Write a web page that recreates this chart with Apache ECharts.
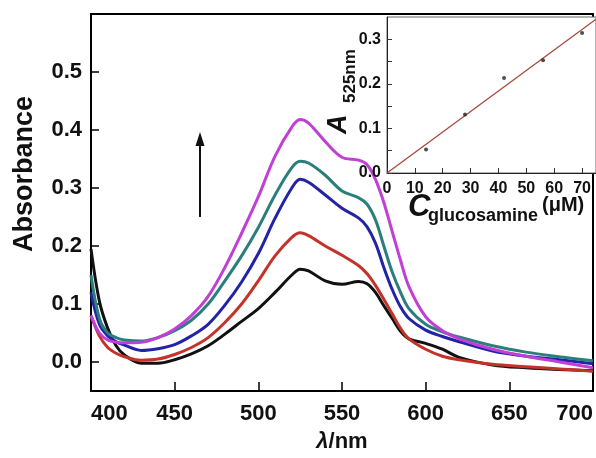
<!DOCTYPE html>
<html>
<head>
<meta charset="utf-8">
<script src="https://cdn.jsdelivr.net/npm/echarts@6/dist/echarts.min.js"></script>
<style>
html,body{margin:0;padding:0;background:#fff;}
#chart{width:596px;height:458px;}
</style>
</head>
<body>
<div id="chart"></div>
<script>
// ---- data ----
const wavelengths = [400,405,410,415,420,430,440,450,460,470,480,490,500,510,520,525,530,540,550,560,565,570,575,580,585,590,600,610,620,640,660,680,700];
const absBlack   = [0.195,0.105,0.058,0.028,0.012,-0.002,-0.002,0.004,0.014,0.028,0.048,0.070,0.092,0.120,0.150,0.160,0.157,0.140,0.134,0.139,0.135,0.120,0.097,0.075,0.053,0.040,0.032,0.022,0.008,-0.005,-0.010,-0.013,-0.015];
const absRed     = [0.080,0.045,0.025,0.015,0.009,0.003,0.005,0.013,0.025,0.042,0.068,0.100,0.140,0.183,0.215,0.223,0.218,0.200,0.184,0.166,0.152,0.132,0.108,0.083,0.058,0.040,0.022,0.010,0.004,-0.004,-0.008,-0.012,-0.016];
const absBlue    = [0.120,0.065,0.045,0.035,0.029,0.020,0.023,0.030,0.045,0.065,0.098,0.138,0.187,0.248,0.300,0.315,0.310,0.288,0.265,0.248,0.233,0.205,0.163,0.125,0.095,0.075,0.055,0.044,0.035,0.019,0.010,0.004,-0.003];
const absTeal    = [0.150,0.075,0.050,0.042,0.038,0.036,0.042,0.054,0.072,0.100,0.140,0.183,0.232,0.288,0.335,0.346,0.343,0.322,0.295,0.283,0.272,0.245,0.200,0.155,0.120,0.092,0.065,0.052,0.043,0.028,0.017,0.009,0.002];
const absMagenta = [0.080,0.050,0.038,0.034,0.033,0.034,0.042,0.057,0.080,0.113,0.163,0.222,0.285,0.355,0.405,0.418,0.412,0.380,0.353,0.348,0.340,0.315,0.275,0.225,0.175,0.130,0.078,0.054,0.040,0.022,0.010,0.000,-0.010];

const insetConc = [14, 28, 42, 56, 70];
const insetA525 = [0.053, 0.131, 0.213, 0.253, 0.314];
const fitConc = [0, 75];
const fitA = [0, 0.345];

const mainYTicks = [0, 0.1, 0.2, 0.3, 0.4, 0.5];
const insetXTicks = [0, 10, 20, 30, 40, 50, 60, 70];
const insetYTicks = [0, 0.1, 0.2, 0.3];
const insetYMinorTicks = [0, 0.05, 0.1, 0.15, 0.2, 0.25, 0.3];

// ---- chart ----
const FONT = 'Liberation Sans, Arial, Helvetica, sans-serif';
const pair = (xs, ys) => xs.map((x, i) => [x, ys[i]]);
const chart = echarts.init(document.getElementById('chart'), null, {renderer: 'canvas'});

function spectrum(name, vals, color) {
  return {
    name, type: 'line', xAxisIndex: 0, yAxisIndex: 0,
    data: pair(wavelengths, vals), smooth: 0.35, showSymbol: false,
    lineStyle: {color, width: 3}, z: 3
  };
}

const option = {
  backgroundColor: '#fff',
  animation: false,
  grid: [
    {left: 91, top: 14, right: -1, bottom: 66, show: true, borderColor: '#000', borderWidth: 2, backgroundColor: 'transparent'},
    {left: 387, top: 17, right: -1, bottom: 285, show: true, borderColor: '#666', borderWidth: 1, backgroundColor: '#fff', z: 5}
  ],
  xAxis: [
    {
      gridIndex: 0, type: 'value', min: 400, max: 700, interval: 50,
      axisLine: {onZero: false, lineStyle: {color: '#000', width: 2}},
      axisTick: {inside: true, length: 9, lineStyle: {color: '#000', width: 1.5}},
      axisLabel: {color: '#111', fontFamily: FONT, fontWeight: 'bold', fontSize: 22, margin: 12,
                  alignMinLabel: 'left', alignMaxLabel: 'right', showMinLabel: true, showMaxLabel: true},
      splitLine: {show: false},
      name: '{i|λ}/nm', nameLocation: 'middle', nameGap: 40,
      nameTextStyle: {color: '#111', fontFamily: FONT, fontWeight: 'bold', fontSize: 22,
        rich: {i: {fontStyle: 'italic', fontWeight: 'bold', fontSize: 22, fontFamily: FONT, color: '#111'}}}
    },
    {
      gridIndex: 1, type: 'value', min: 0, max: 75,
      axisLine: {onZero: false, lineStyle: {color: '#222', width: 1}},
      axisTick: {inside: true, length: 5, customValues: insetXTicks, lineStyle: {color: '#333'}},
      axisLabel: {customValues: insetXTicks, color: '#111', fontFamily: FONT, fontWeight: 'bold', fontSize: 16, margin: 8},
      splitLine: {show: false}, z: 6
    }
  ],
  yAxis: [
    {
      gridIndex: 0, type: 'value', min: -0.05, max: 0.6,
      axisLine: {onZero: false, lineStyle: {color: '#000', width: 2}},
      axisTick: {inside: true, length: 8, customValues: mainYTicks, lineStyle: {color: '#000', width: 1.5}},
      axisLabel: {customValues: mainYTicks, formatter: v => v.toFixed(1), color: '#111',
                  fontFamily: FONT, fontWeight: 'bold', fontSize: 22, margin: 9},
      splitLine: {show: false}
    },
    {
      gridIndex: 1, type: 'value', min: 0, max: 0.35,
      axisLine: {onZero: false, lineStyle: {color: '#222', width: 1}},
      axisTick: {inside: true, length: 5, customValues: insetYMinorTicks, lineStyle: {color: '#333'}},
      axisLabel: {customValues: insetYTicks, formatter: v => v.toFixed(1), color: '#111',
                  fontFamily: FONT, fontWeight: 'bold', fontSize: 16, margin: 6},
      splitLine: {show: false}, z: 6
    }
  ],
  series: [
    spectrum('black', absBlack, '#111111'),
    spectrum('red', absRed, '#c3332a'),
    spectrum('blue', absBlue, '#2323a6'),
    spectrum('teal', absTeal, '#2a7f7c'),
    spectrum('magenta', absMagenta, '#c23fd6'),
    {
      name: 'fit', type: 'line', xAxisIndex: 1, yAxisIndex: 1,
      data: pair(fitConc, fitA), showSymbol: false,
      lineStyle: {color: '#a8463c', width: 1.3}, z: 7
    },
    {
      name: 'A525', type: 'scatter', xAxisIndex: 1, yAxisIndex: 1,
      data: pair(insetConc, insetA525), symbolSize: 4,
      itemStyle: {color: '#222'}, z: 8
    }
  ],
  graphic: [
    {type: 'text', left: 11, top: 96, rotation: Math.PI / 2, z: 10,
     style: {text: 'Absorbance', font: 'bold 27px ' + FONT, fill: '#111'}},
    {type: 'line', z: 10, shape: {x1: 200, y1: 217, x2: 200, y2: 142}, style: {stroke: '#111', lineWidth: 2}},
    {type: 'polygon', z: 10, shape: {points: [[195.5, 146], [200, 132], [204.5, 146]]}, style: {fill: '#111'}},
    {type: 'text', z: 10, x: 325, y: 134, rotation: Math.PI / 2,
     style: {text: 'A', font: 'italic bold 27px ' + FONT, fill: '#111'}},
    {type: 'text', z: 10, x: 342, y: 103, rotation: Math.PI / 2,
     style: {text: '525nm', font: 'bold 17px ' + FONT, fill: '#111'}},
    {type: 'text', z: 10, x: 408, y: 192,
     style: {text: 'C', font: 'italic bold 31px ' + FONT, fill: '#111'}},
    {type: 'text', z: 10, x: 428, y: 207,
     style: {text: 'glucosamine', font: 'bold 18px ' + FONT, fill: '#111'}},
    {type: 'text', z: 10, x: 542, y: 195,
     style: {text: '(μM)', font: 'bold 20px ' + FONT, fill: '#111'}}
  ]
};
chart.setOption(option);
</script>
</body>
</html>
